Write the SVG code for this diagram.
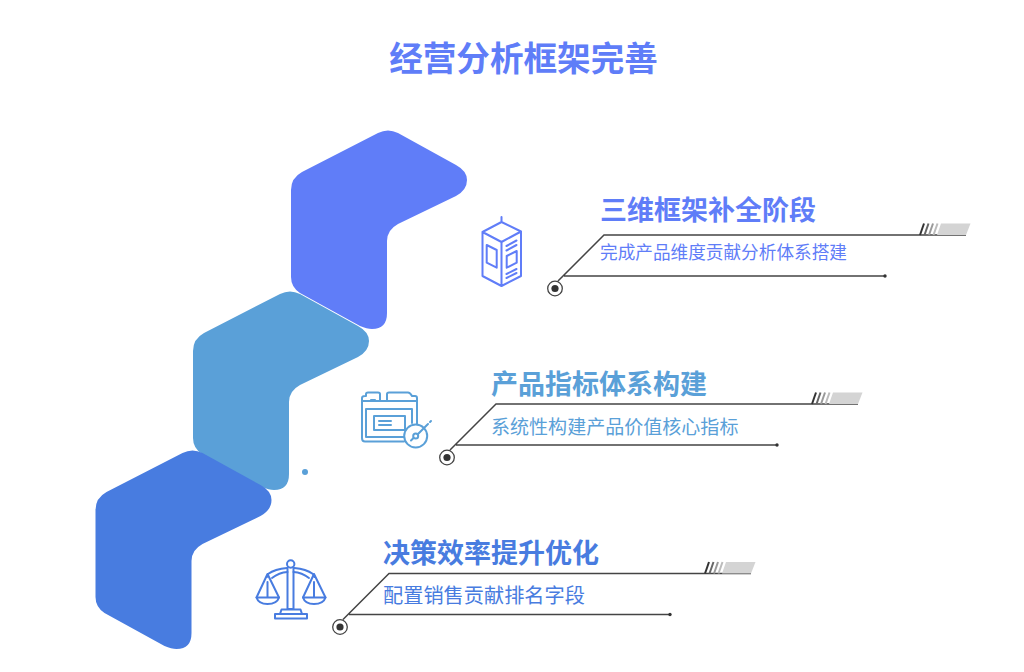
<svg xmlns="http://www.w3.org/2000/svg" width="1024" height="672" viewBox="0 0 1024 672">
<style>
text{font-family:"Noto Sans CJK SC","Noto Sans",sans-serif}
.title{font-size:33.6px;font-weight:700;fill:#5F7DF8;text-anchor:middle}
.h{font-size:27px;font-weight:700}
.s{font-weight:400}
.ln{fill:none;stroke:#444;stroke-width:1.5}
.ic{fill:none;stroke-width:2;stroke-linejoin:round;stroke-linecap:round}
.st{fill:none;stroke-width:2}
</style>
<defs>
<path id="blade" d="M291 190Q291 178 302 172L378 133Q388 128 398 133L456 165Q467 171 467 180Q467 190 456 196L398 224Q387 230 387 241L387 313Q387 329 372 329Q367 329 360 326L300 293Q291 287 291 277Z"/>
<g id="lead">
<path class="ln" d="M558 281L604 235H966M564 276H885"/>
<circle cx="885" cy="276" r="1.700" fill="#333"/>
<circle cx="555" cy="288.500" r="7.300" fill="#fff" stroke="#444" stroke-width="1.300"/>
<circle cx="555" cy="288.500" r="3.600" fill="#333"/>
<path d="M941 223.500H970.500L966 235H937Z" fill="#d4d4d4"/>
<path class="st" stroke="#333" d="M924 223.500L920 235"/>
<path class="st" stroke="#666" d="M928.500 223.500L924.500 235"/>
<path class="st" stroke="#999" d="M933 223.500L929 235"/>
<path class="st" stroke="#bbb" d="M937.500 223.500L933.500 235"/>
</g>
</defs>
<text class="title" x="523.500" y="71">经营分析框架完善</text>
<g id="blades">
<use id="blade-1" href="#blade" fill="#607DF8"/>
<use id="blade-2" href="#blade" x="-98" y="161" fill="#5AA0D8"/>
<use id="blade-3" href="#blade" x="-195.500" y="320" fill="#487CE0"/>
</g>
<g id="connectors">
<use href="#lead"/>
<use href="#lead" x="-108" y="169"/>
<use href="#lead" x="-215" y="338.500"/>
</g>
<circle id="dot" cx="305" cy="472" r="3" fill="#5AA0D8"/>
<g id="node-1">
<text class="h" x="600" y="220" fill="#5F7DF8">三维框架补全阶段</text>
<text class="s" x="600" y="259" font-size="17.650" fill="#5F7DF8">完成产品维度贡献分析体系搭建</text>
<g class="ic" stroke="#607DF8">
<path d="M501.500 217V222L482.500 232V276L501.500 286L521 276V231.500L501.500 222M482.500 232L501.500 242L521 231.500M501.500 242V286"/>
<path d="M486.700 245L496.700 250V267.700L486.700 262.700Z"/>
<path d="M506.700 256L516.700 251V262.700L506.700 267.700Z"/>
<path d="M506.500 246L516.500 240.500M506.500 250.500L516.500 245M506.500 274L516.500 269M506.500 278L516.500 273"/>
</g>
</g>
<g id="node-2">
<text class="h" x="491" y="394" fill="#5AA0D8">产品指标体系构建</text>
<text class="s" x="491" y="434" font-size="19.050" fill="#5AA0D8">系统性构建产品价值核心指标</text>
<g class="ic" stroke="#5AA0D8">
<path d="M404 441.500H365Q362 441.500 362 438V398Q362 396 365 396H366V394Q366 392.500 368 392.500H378Q380 392.500 380 394V401H387V394Q387 392.500 389 392.500H408Q410 392.500 412 396H415Q417 396 417 398V424"/>
<path d="M362 401H417M366 409H412V423M366 409V437H404"/>
<path d="M374 416H405V430H374ZM379 421H391M379 425H391M371 400H375"/>
<circle cx="415.700" cy="436" r="11.500"/>
<circle cx="415.700" cy="436" r="2.500"/>
<path d="M418 434L428 424M413.500 438L411 440.500M430 422L431 421"/>
</g>
</g>
<g id="node-3">
<text class="h" x="383" y="563" fill="#487CE0">决策效率提升优化</text>
<text class="s" x="383" y="603" font-size="20.200" fill="#487CE0">配置销售贡献排名字段</text>
<g class="ic" stroke="#487CE0">
<circle cx="290.700" cy="564" r="3.700"/>
<path d="M287.500 568V609H293.500V568"/>
<path d="M287 568Q275 569 268 574L267 577M294.500 568Q306 569 313 574L314.500 577M272 578Q279 572.500 287.500 572M293.500 572Q302 572.500 309 578"/>
<path d="M256.500 597.500L267.500 574L279 597.500M303 597.500L314 574L325.500 597.500M267.500 582V597M314 582V597"/>
<path d="M256.500 597.500H279Q277 604 267.500 604Q258.500 604 256.500 597.500ZM303 597.500H325.500Q323.500 604 314 604Q305 604 303 597.500Z"/>
<path d="M281.500 609.500H300.500L302 614H280ZM275 614H307V618.500H275Z"/>
</g>
</g>
</svg>
